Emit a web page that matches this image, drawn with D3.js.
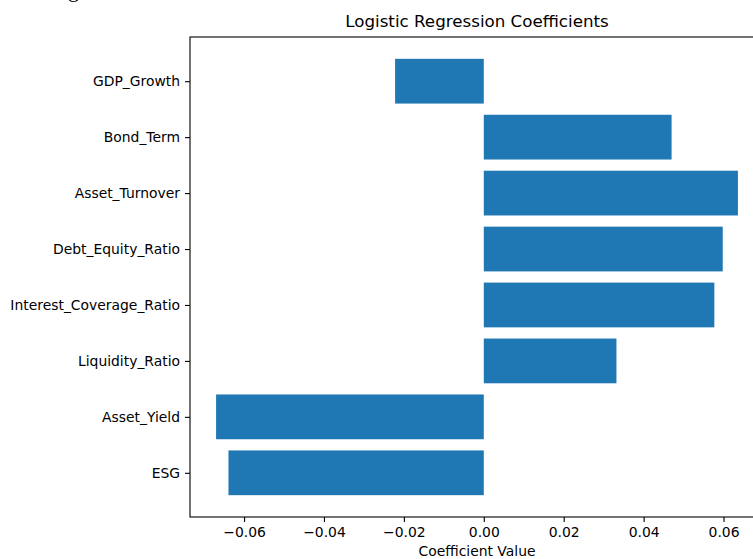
<!DOCTYPE html>
<html>
<head>
<meta charset="utf-8">
<script src="https://cdn.jsdelivr.net/npm/d3@7"></script>
<style>
  body { margin: 0; background: #fff; }
  svg { display: block; font-family: "DejaVu Sans", sans-serif; }
</style>
</head>
<body>
<div id="chart"></div>
<script>
const WIDTH = 753;
const HEIGHT = 559;

// bottom to top, as matplotlib barh draws them
const features = ['ESG', 'Asset_Yield', 'Liquidity_Ratio', 'Interest_Coverage_Ratio',
  'Debt_Equity_Ratio', 'Asset_Turnover', 'Bond_Term', 'GDP_Growth'];
const coefficients = [-0.0639, -0.0670, 0.0332, 0.0577, 0.0598, 0.0636, 0.0470, -0.0222];
const xTicks = [-0.06, -0.04, -0.02, 0.00, 0.02, 0.04, 0.06];

const margin = {top: 37, left: 190, bottom: 42};
const plotRight = 764; // right spine falls just past the window

var svg = d3.select('#chart').append('svg')
  .attr('width', WIDTH)
  .attr('height', HEIGHT);

// clipped fragment of text above the figure
svg.append('text')
  .attr('x', 68)
  .attr('y', -3.5)
  .attr('font-family', '"Liberation Serif", serif')
  .attr('font-size', 22)
  .text('g');

var lo = d3.min(coefficients), hi = d3.max(coefficients);
var pad = (hi - lo) * 0.05;
var x = d3.scaleLinear()
  .domain([lo - pad, hi + pad])
  .range([margin.left, plotRight]);

var n = features.length;
var yPad = (n - 1 + 0.8) * 0.05;
var y = d3.scaleLinear()
  .domain([-0.4 - yPad, n - 1 + 0.4 + yPad])
  .range([HEIGHT - margin.bottom, margin.top]);

svg.selectAll('rect.bar')
  .data(coefficients)
  .enter().append('rect')
  .attr('class', 'bar')
  .attr('x', d => x(Math.min(0, d)))
  .attr('width', d => Math.abs(x(d) - x(0)))
  .attr('y', (d, i) => y(i + 0.4))
  .attr('height', (d, i) => y(i - 0.4) - y(i + 0.4))
  .attr('fill', '#1f77b4');

var xAxis = svg.append('g')
  .attr('transform', 'translate(0,' + y.range()[0] + ')')
  .call(d3.axisBottom(x).tickValues(xTicks).tickSize(5).tickPadding(5)
    .tickFormat(d => d3.format('.2f')(d).replace('-', '\u2212')));

var yAxis = svg.append('g')
  .attr('transform', 'translate(' + margin.left + ',0)')
  .call(d3.axisLeft(y).tickValues(d3.range(n)).tickSize(5).tickPadding(5)
    .tickFormat(i => features[i]));

[xAxis, yAxis].forEach(function (a) {
  a.select('.domain').remove();
  a.selectAll('.tick line').attr('stroke', '#000').attr('stroke-width', 1.1);
  a.selectAll('.tick text').attr('fill', '#000').attr('font-size', 13.9)
    .attr('font-family', '"DejaVu Sans", sans-serif');
});

// spines
var frame = svg.append('g').attr('stroke', '#000').attr('stroke-width', 1.1).attr('fill', 'none');
frame.append('rect')
  .attr('x', margin.left)
  .attr('y', margin.top)
  .attr('width', plotRight - margin.left)
  .attr('height', y.range()[0] - margin.top);

svg.append('text')
  .attr('x', (margin.left + plotRight) / 2)
  .attr('y', 27)
  .attr('text-anchor', 'middle')
  .attr('font-size', 16.7)
  .text('Logistic Regression Coefficients');

svg.append('text')
  .attr('x', (margin.left + plotRight) / 2)
  .attr('y', 556)
  .attr('text-anchor', 'middle')
  .attr('font-size', 13.9)
  .text('Coefficient Value');
</script>
</body>
</html>
